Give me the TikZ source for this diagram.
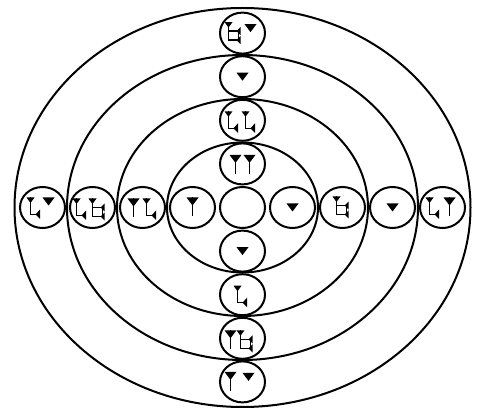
\documentclass[tikz,border=0pt]{standalone}
\usetikzlibrary{shapes.geometric}
\tikzset{
  ring/.style={line width=2pt},
  cell/.style={draw, ellipse, line width=2pt, minimum width=45pt, minimum height=41pt, inner sep=0pt},
  stroke/.style={line width=1.4pt},
  bighead/.pic={\fill (-6,0) -- (6,0) -- (0,8) -- cycle;},
  bigwedge/.pic={
    \fill (-6,0) -- (6,0) -- (0,8) -- cycle;
    \draw[stroke] (0,0) -- (0,19);},
  hook/.pic={
    \fill (-4,0) -- (4,0) -- (0,5.5) -- cycle;
    \draw[stroke] (0,0) -- (0,17) -- (7,17);
    \fill (5,17) -- (9.5,12) -- (9.5,21.5) -- cycle;},
  ehook/.pic={
    \fill (-4,0) -- (4,0) -- (0,5.5) -- cycle;
    \draw[stroke] (0,0) -- (0,18) -- (10,18) -- (10,9) -- (0,9);
    \fill (8,9) -- (12,5) -- (12,13) -- cycle;
    \fill (8,18) -- (12,14) -- (12,22) -- cycle;}
}
\begin{document}
\begin{tikzpicture}[x=1pt,y=-1pt]
  \useasboundingbox (0,0) rectangle (482,414);
  \coordinate (ctr) at (242.5,207.5);
  % rings
  \foreach \rx/\ry in {75.5/65, 125.5/108.5, 175.5/152.5, 228/199.5}
    \draw[ring] (ctr) ellipse [x radius=\rx pt, y radius=\ry pt];
  % cells on the two axes
  \node[cell] (c0) at (ctr) {};
  \foreach \k in {1,...,4} {
    \node[cell] (l\k) at (242.5-50*\k,207.5) {};
    \node[cell] (r\k) at (242.5+50*\k,207.5) {};
    \node[cell] (u\k) at (242.5,207.5-43.6*\k) {};
    \node[cell] (d\k) at (242.5,207.5+43.6*\k) {};
  }
  % signs: cell/dx/dy
  \foreach \c/\dx/\dy in {l4/6/-10, r1/0/-4, r3/0/-4, u4/8/-9, u3/0/-4, d1/0/-4, d4/6/-9}
    \path (\c) ++(\dx,\dy) pic {bighead};
  \foreach \c/\dx/\dy in {l2/-9/-9, l1/0/-10, r4/7/-10, u1/-7/-9, u1/7/-9, d3/-12/-8, d4/-12/-10}
    \path (\c) ++(\dx,\dy) pic {bigwedge};
  \foreach \c/\dx/\dy in {l4/-12/-10, l3/-16/-9, l2/4/-9, r4/-13/-10, u2/-14/-9, u2/3/-9, d2/-5/-9}
    \path (\c) ++(\dx,\dy) pic {hook};
  \foreach \c/\dx/\dy in {l3/0/-9, r2/-6/-11, u4/-14/-11, d3/-2/-8}
    \path (\c) ++(\dx,\dy) pic {ehook};
\end{tikzpicture}
\end{document}
